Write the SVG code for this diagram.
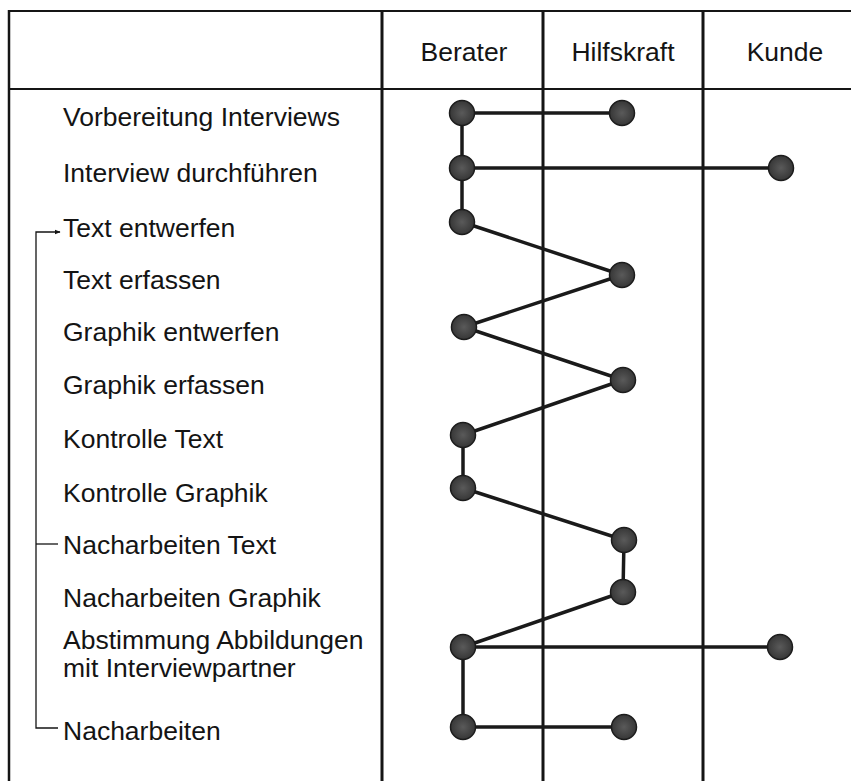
<svg xmlns="http://www.w3.org/2000/svg" width="851" height="781" viewBox="0 0 851 781">
  <style>
    .grid { stroke: #151515; fill: none; }
    .label { font-family: "Liberation Sans", Arial, Helvetica, sans-serif; font-size: 26.5px; fill: #141414; }
    .head { text-anchor: middle; }
    .link { stroke: #1a1a1a; stroke-width: 3.5; fill: none; stroke-linecap: round; }
    .dot { fill: url(#dotFill); stroke: #1c1c1c; stroke-width: 1.5; }
    .loop { stroke: #151515; stroke-width: 1.3; fill: none; }
  </style>
  <defs>
    <radialGradient id="dotFill" cx="50%" cy="50%" r="55%">
      <stop offset="0" stop-color="#5a5a5a"/>
      <stop offset="1" stop-color="#333"/>
    </radialGradient>
    <marker id="tip" viewBox="0 0 10 10" refX="9" refY="5" markerWidth="6" markerHeight="6" orient="auto" markerUnits="userSpaceOnUse">
      <path d="M0,1 L10,5 L0,9 Z" fill="#151515"/>
    </marker>
  </defs>

  <rect width="851" height="781" fill="#ffffff"/>

  <!-- table frame -->
  <g id="grid">
    <line class="grid" x1="9" y1="11" x2="851" y2="11" stroke-width="2.2"/>
    <line class="grid" x1="9" y1="89" x2="851" y2="89" stroke-width="2"/>
    <line class="grid" x1="9" y1="10" x2="9" y2="781" stroke-width="2.5"/>
    <line class="grid" x1="382" y1="10" x2="382" y2="781" stroke-width="3"/>
    <line class="grid" x1="543" y1="10" x2="543" y2="781" stroke-width="3"/>
    <line class="grid" x1="703" y1="10" x2="703" y2="781" stroke-width="3"/>
  </g>

  <!-- column headers -->
  <g id="headers" class="label head">
    <text x="464" y="61">Berater</text>
    <text x="623" y="61">Hilfskraft</text>
    <text x="785" y="61">Kunde</text>
  </g>

  <!-- activity labels -->
  <g id="activities" class="label">
    <text x="63" y="126">Vorbereitung Interviews</text>
    <text x="63" y="182">Interview durchführen</text>
    <text x="63" y="237">Text entwerfen</text>
    <text x="63" y="289">Text erfassen</text>
    <text x="63" y="341">Graphik entwerfen</text>
    <text x="63" y="394">Graphik erfassen</text>
    <text x="63" y="448">Kontrolle Text</text>
    <text x="63" y="502">Kontrolle Graphik</text>
    <text x="63" y="554">Nacharbeiten Text</text>
    <text x="63" y="607">Nacharbeiten Graphik</text>
    <text x="63" y="649">Abstimmung Abbildungen</text>
    <text x="63" y="677">mit Interviewpartner</text>
    <text x="63" y="740">Nacharbeiten</text>
  </g>

  <!-- rework loop -->
  <g id="loop">
    <path class="loop" d="M58,728 H36 V232 H60" marker-end="url(#tip)"/>
    <line class="loop" x1="36" y1="544" x2="58" y2="544"/>
  </g>

  <!-- connectors -->
  <g id="connectors">
    <line class="link" x1="462" y1="113" x2="622" y2="113"/>
    <line class="link" x1="462" y1="113" x2="462" y2="168"/>
    <line class="link" x1="462" y1="168" x2="780" y2="168"/>
    <line class="link" x1="462" y1="168" x2="462" y2="222"/>
    <line class="link" x1="462" y1="222" x2="622" y2="275"/>
    <line class="link" x1="622" y1="275" x2="464" y2="327"/>
    <line class="link" x1="464" y1="327" x2="623" y2="380"/>
    <line class="link" x1="623" y1="380" x2="463" y2="435"/>
    <line class="link" x1="463" y1="435" x2="463" y2="488"/>
    <line class="link" x1="463" y1="488" x2="624" y2="540"/>
    <line class="link" x1="624" y1="540" x2="623" y2="592"/>
    <line class="link" x1="623" y1="592" x2="463" y2="647"/>
    <line class="link" x1="463" y1="647" x2="780" y2="647"/>
    <line class="link" x1="463" y1="647" x2="463" y2="727"/>
    <line class="link" x1="463" y1="727" x2="624" y2="727"/>
  </g>

  <!-- activity nodes -->
  <g id="n-vorbereitung-b"><circle class="dot" cx="462" cy="113" r="12.5"/></g>
  <g id="n-vorbereitung-h"><circle class="dot" cx="622" cy="113" r="12.5"/></g>
  <g id="n-interview-b"><circle class="dot" cx="462" cy="168" r="12.5"/></g>
  <g id="n-interview-k"><circle class="dot" cx="781" cy="168" r="12.5"/></g>
  <g id="n-text-entwerfen"><circle class="dot" cx="462" cy="222" r="12.5"/></g>
  <g id="n-text-erfassen"><circle class="dot" cx="622" cy="275" r="12.5"/></g>
  <g id="n-graphik-entwerfen"><circle class="dot" cx="464" cy="327" r="12.5"/></g>
  <g id="n-graphik-erfassen"><circle class="dot" cx="623" cy="380" r="12.5"/></g>
  <g id="n-kontrolle-text"><circle class="dot" cx="463" cy="435" r="12.5"/></g>
  <g id="n-kontrolle-graphik"><circle class="dot" cx="463" cy="488" r="12.5"/></g>
  <g id="n-nacharbeiten-text"><circle class="dot" cx="624" cy="540" r="12.5"/></g>
  <g id="n-nacharbeiten-graphik"><circle class="dot" cx="623" cy="592" r="12.5"/></g>
  <g id="n-abstimmung-b"><circle class="dot" cx="463" cy="647" r="12.5"/></g>
  <g id="n-abstimmung-k"><circle class="dot" cx="780" cy="647" r="12.5"/></g>
  <g id="n-nacharbeiten-b"><circle class="dot" cx="463" cy="727" r="12.5"/></g>
  <g id="n-nacharbeiten-h"><circle class="dot" cx="624" cy="727" r="12.5"/></g>
</svg>
